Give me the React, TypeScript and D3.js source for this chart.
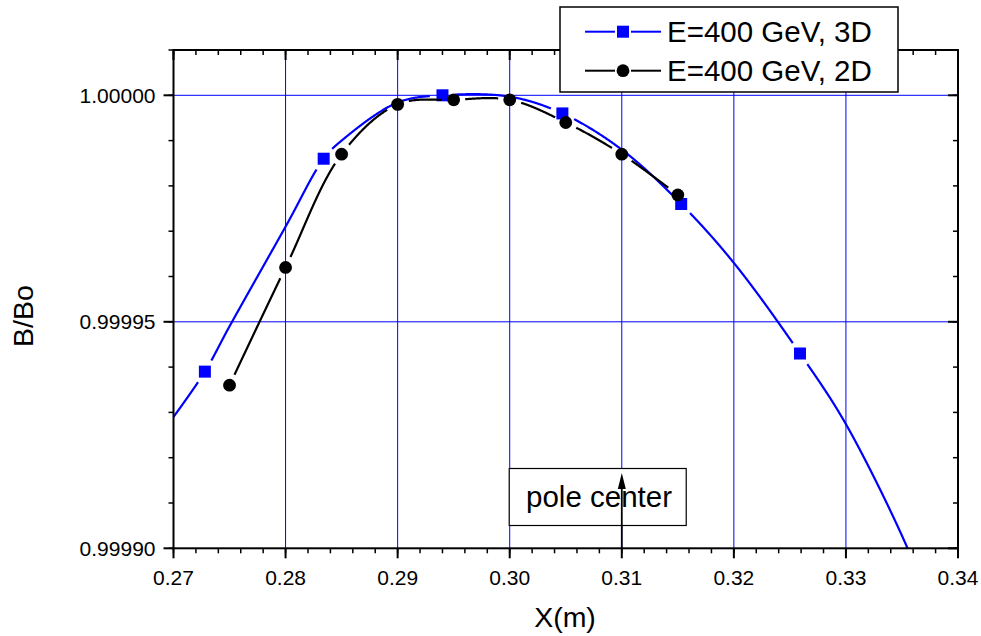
import React, { useLayoutEffect, useRef, useState } from "react";
import * as d3 from "d3";

const W = 981;
const H = 636;

// 3D curve (smooth line)
const blueLineX = [0.27, 0.2728, 0.275, 0.28, 0.2834, 0.285, 0.29, 0.294, 0.3, 0.3047, 0.31, 0.3153, 0.32, 0.3259, 0.33, 0.3355, 0.337];
const blueLineY = [0.999929, 0.999939, 0.999949, 0.999971, 0.999986, 0.999990, 0.9999984, 1.0, 0.9999997, 0.999996, 0.999988, 0.999976, 0.999963, 0.999943, 0.9999274, 0.9999, 0.99989];
// 3D symbols
const blueMarkX = [0.2728, 0.2834, 0.294, 0.3047, 0.3153, 0.3259];
const blueMarkY = [0.999939, 0.999986, 1.0, 0.999996, 0.999976, 0.999943];
// 2D series
const blackX = [0.275, 0.28, 0.285, 0.29, 0.295, 0.3, 0.305, 0.31, 0.315];
const blackY = [0.999936, 0.999962, 0.999987, 0.999998, 0.999999, 0.999999, 0.999994, 0.999987, 0.999978];

const xTicks = [0.27, 0.28, 0.29, 0.3, 0.31, 0.32, 0.33, 0.34];
const xTickLabels = ["0.27", "0.28", "0.29", "0.30", "0.31", "0.32", "0.33", "0.34"];
const yTicks = [0.9999, 0.99995, 1.0];
const yTickLabels = ["0.99990", "0.99995", "1.00000"];
const gridXs = [0.28, 0.29, 0.3, 0.31, 0.32, 0.33];
const gridYs = [0.99995, 1.0];
const legendLabels = ["E=400 GeV, 3D", "E=400 GeV, 2D"];
const xTitle = "X(m)";
const yTitle = "B/Bo";
const noteText = "pole center";
const noteX = 0.31;
const noteBoxFrom = 0.3;

const FONT = "'Liberation Sans', Arial, Helvetica, sans-serif";
const BLUE = "#0000ff";

const L = 173.5, R = 958, T = 50, B = 548.3;

export default function App() {
  const x = d3.scaleLinear().domain([0.27, 0.34]).range([L, R]);
  const y = d3.scaleLinear().domain([0.9999, 1.00001]).range([B, T]);

  const gen = d3
    .line<[number, number]>()
    .x((d) => x(d[0]))
    .y((d) => y(d[1]))
    .curve(d3.curveCatmullRom.alpha(0.5));
  const bluePath = gen(blueLineX.map((v, i) => [v, blueLineY[i]] as [number, number]))!;
  const blackPath = gen(blackX.map((v, i) => [v, blackY[i]] as [number, number]))!;

  const blueRef = useRef<SVGPathElement>(null);
  const blackRef = useRef<SVGPathElement>(null);
  const [segs, setSegs] = useState<{ blue: string[]; black: string[] } | null>(null);

  useLayoutEffect(() => {
    const split = (el: SVGPathElement | null, marks: [number, number][], r: number) => {
      if (!el) return [] as string[];
      const len = el.getTotalLength();
      const out: [number, number][][] = [];
      let cur: [number, number][] = [];
      for (let s = 0; s <= len + 0.25; s += 0.5) {
        const p = el.getPointAtLength(Math.min(s, len));
        const hide = marks.some(([mx, my]) => Math.hypot(p.x - mx, p.y - my) < r);
        if (hide) {
          if (cur.length > 1) out.push(cur);
          cur = [];
        } else cur.push([p.x, p.y]);
      }
      if (cur.length > 1) out.push(cur);
      return out.map((c) => d3.line()(c) as string);
    };
    const bm = blueMarkX.map((v, i) => [x(v), y(blueMarkY[i])] as [number, number]);
    const km = blackX.map((v, i) => [x(v), y(blackY[i])] as [number, number]);
    setSegs({ blue: split(blueRef.current, bm, 12.5), black: split(blackRef.current, km, 11.5) });
  }, []);

  const minorX = d3.range(0, 36).map((i) => 0.27 + i * 0.002);
  const minorY = d3.range(0, 12).map((i) => 0.9999 + i * 0.00001);
  const MAJ = 10, MIN = 5;

  const lx0 = 585, lx1 = 661, lmx = 623;
  const rows = [31.7, 70.7];

  return (
    <div style={{ position: "absolute", left: 0, top: 0 }}>
      <svg width={W} height={H} style={{ display: "block", background: "#fff" }} fontFamily={FONT}>
        <defs>
          <clipPath id="plot">
            <rect x={L} y={T} width={R - L} height={B - T} />
          </clipPath>
        </defs>

        {/* hidden measuring paths */}
        <path ref={blueRef} d={bluePath} fill="none" stroke="none" />
        <path ref={blackRef} d={blackPath} fill="none" stroke="none" />

        {/* grid */}
        {gridXs.map((v) => (
          <line key={"gx" + v} x1={x(v)} x2={x(v)} y1={T} y2={B} stroke={BLUE} strokeWidth={1} />
        ))}
        {gridYs.map((v) => (
          <line key={"gy" + v} x1={L} x2={R} y1={y(v)} y2={y(v)} stroke={BLUE} strokeWidth={1} />
        ))}

        {/* curves */}
        <g clipPath="url(#plot)">
          {segs &&
            segs.blue.map((d, i) => (
              <path key={"b" + i} d={d} fill="none" stroke={BLUE} strokeWidth={2.2} strokeLinecap="butt" />
            ))}
          {blueMarkX.map((v, i) => (
            <rect key={i} x={x(v) - 6} y={y(blueMarkY[i]) - 6} width={12} height={12} fill={BLUE} />
          ))}
          {segs &&
            segs.black.map((d, i) => (
              <path key={"k" + i} d={d} fill="none" stroke="#000" strokeWidth={2.2} strokeLinecap="butt" />
            ))}
          {blackX.map((v, i) => (
            <circle key={i} cx={x(v)} cy={y(blackY[i])} r={6.4} fill="#000" />
          ))}
        </g>

        {/* frame */}
        <rect x={L} y={T} width={R - L} height={B - T} fill="none" stroke="#000" strokeWidth={2} />

        {/* bottom / top ticks */}
        {minorX.map((v, i) => (
          <g key={"mx" + i}>
            <line x1={x(v)} x2={x(v)} y1={B} y2={B + MIN} stroke="#000" strokeWidth={1.5} />
            <line x1={x(v)} x2={x(v)} y1={T} y2={T + MIN} stroke="#000" strokeWidth={1.5} />
          </g>
        ))}
        {xTicks.map((v, i) => (
          <g key={"xt" + i}>
            <line x1={x(v)} x2={x(v)} y1={B} y2={B + MAJ} stroke="#000" strokeWidth={2} />
            <line x1={x(v)} x2={x(v)} y1={T} y2={T + MAJ} stroke="#000" strokeWidth={2} />
            <text x={x(v)} y={584.5} textAnchor="middle" fontSize={21} fill="#000">
              {xTickLabels[i]}
            </text>
          </g>
        ))}
        {/* left / right ticks */}
        {minorY.map((v, i) => (
          <g key={"my" + i}>
            <line x1={L - MIN} x2={L} y1={y(v)} y2={y(v)} stroke="#000" strokeWidth={1.5} />
            <line x1={R - MIN} x2={R} y1={y(v)} y2={y(v)} stroke="#000" strokeWidth={1.5} />
          </g>
        ))}
        {yTicks.map((v, i) => (
          <g key={"yt" + i}>
            <line x1={L - MAJ} x2={L} y1={y(v)} y2={y(v)} stroke="#000" strokeWidth={2} />
            <line x1={R - MAJ} x2={R} y1={y(v)} y2={y(v)} stroke="#000" strokeWidth={2} />
            <text x={L - 18} y={y(v) + 7.5} textAnchor="end" fontSize={21} fill="#000">
              {yTickLabels[i]}
            </text>
          </g>
        ))}

        {/* axis titles */}
        <text x={565} y={627} textAnchor="middle" fontSize={28.5} fill="#000">
          {xTitle}
        </text>
        <text transform="translate(33,316) rotate(-90)" textAnchor="middle" fontSize={28.5} fill="#000">
          {yTitle}
        </text>

        {/* annotation */}
        <rect x={x(noteBoxFrom) - 0.5} y={468.5} width={177} height={57} fill="#fff" stroke="#000" strokeWidth={1.2} />
        <text x={599} y={507} textAnchor="middle" fontSize={29.5} fill="#000">
          {noteText}
        </text>
        <line x1={x(noteX)} x2={x(noteX)} y1={B} y2={484} stroke="#000" strokeWidth={1.8} />
        <path d={`M${x(noteX)},473 L${x(noteX) + 4},489 L${x(noteX) - 4},489 Z`} fill="#000" />

        {/* legend */}
        <rect x={560} y={7} width={338} height={85} fill="#fff" stroke="#000" strokeWidth={1.5} />
        <line x1={lx0} x2={lmx - 8} y1={rows[0]} y2={rows[0]} stroke={BLUE} strokeWidth={2} />
        <line x1={lmx + 8} x2={lx1} y1={rows[0]} y2={rows[0]} stroke={BLUE} strokeWidth={2} />
        <rect x={lmx - 6} y={rows[0] - 6} width={12} height={12} fill={BLUE} />
        <text x={667} y={41.5} fontSize={29.5} fill="#000">
          {legendLabels[0]}
        </text>
        <line x1={lx0} x2={lmx - 8} y1={rows[1]} y2={rows[1]} stroke="#000" strokeWidth={2} />
        <line x1={lmx + 8} x2={lx1} y1={rows[1]} y2={rows[1]} stroke="#000" strokeWidth={2} />
        <circle cx={lmx} cy={rows[1]} r={6.4} fill="#000" />
        <text x={667} y={81} fontSize={29.5} fill="#000">
          {legendLabels[1]}
        </text>
      </svg>
    </div>
  );
}
